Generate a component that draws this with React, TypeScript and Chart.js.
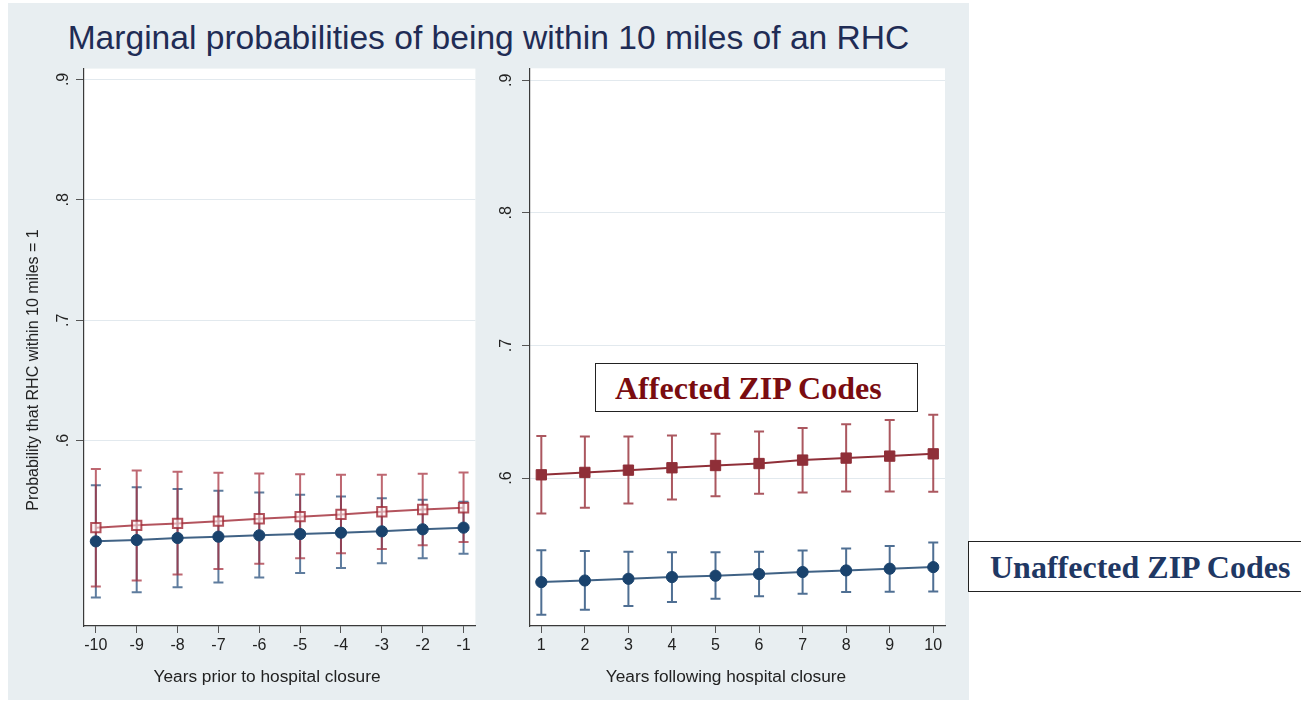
import React, { useEffect, useRef } from 'react';
import { Chart, registerables } from 'chart.js';

Chart.register(...registerables);

// ---------- data ----------
const priorYears = [-10, -9, -8, -7, -6, -5, -4, -3, -2, -1];
const followYears = [1, 2, 3, 4, 5, 6, 7, 8, 9, 10];

const priorAffected = [0.5277, 0.5296, 0.5312, 0.5331, 0.5351, 0.5368, 0.5387, 0.5409, 0.5428, 0.5442];
const priorAffectedHi = [0.5765, 0.5751, 0.5741, 0.5732, 0.5727, 0.5721, 0.5716, 0.5716, 0.5724, 0.5735];
const priorAffectedLo = [0.4788, 0.4838, 0.4887, 0.4934, 0.4978, 0.5022, 0.5064, 0.5099, 0.513, 0.5157];

const priorUnaffected = [0.5163, 0.5174, 0.5191, 0.5202, 0.5213, 0.5224, 0.5235, 0.5246, 0.5263, 0.5277];
const priorUnaffectedHi = [0.563, 0.5613, 0.5597, 0.5583, 0.5569, 0.555, 0.5536, 0.5522, 0.5509, 0.5492];
const priorUnaffectedLo = [0.4697, 0.4741, 0.4782, 0.4821, 0.4863, 0.4901, 0.4942, 0.4981, 0.5022, 0.5061];

const followAffected = [0.6025, 0.6043, 0.606, 0.6078, 0.6095, 0.611, 0.6136, 0.6151, 0.6166, 0.6183];
const followAffectedHi = [0.6317, 0.6313, 0.6313, 0.6321, 0.6334, 0.6351, 0.6377, 0.6407, 0.6439, 0.6477];
const followAffectedLo = [0.5733, 0.5776, 0.5809, 0.5839, 0.5864, 0.5882, 0.5891, 0.5899, 0.5899, 0.5897];

const followUnaffected = [0.5216, 0.5228, 0.5241, 0.5254, 0.5264, 0.5277, 0.5292, 0.5304, 0.5317, 0.5329];
const followUnaffectedHi = [0.5457, 0.545, 0.5445, 0.5442, 0.5442, 0.5445, 0.5454, 0.5469, 0.5488, 0.5515];
const followUnaffectedLo = [0.497, 0.5008, 0.5035, 0.5066, 0.509, 0.511, 0.5128, 0.5141, 0.5143, 0.5145];

const yTickValues = [0.6, 0.7, 0.8, 0.9];
const yTickLabels = ['.6', '.7', '.8', '.9'];

const titleText = 'Marginal probabilities of being within 10 miles of an RHC';
const yTitle = 'Probability that RHC within 10 miles = 1';
const xTitleLeft = 'Years prior to hospital closure';
const xTitleRight = 'Years following hospital closure';
const affectedLabel = 'Affected ZIP Codes';
const unaffectedLabel = 'Unaffected ZIP Codes';

const FONT = '"Liberation Sans", Arial, Helvetica, sans-serif';
const SERIF = '"Liberation Serif", "Times New Roman", serif';

// ---------- plugin: white plot area, error bars, rotated y labels ----------
const panelPlugin = {
  id: 'panel',
  beforeDraw(chart: any) {
    const { ctx, chartArea: a } = chart;
    ctx.save();
    ctx.fillStyle = '#ffffff';
    ctx.fillRect(a.left, a.top, a.right - a.left, a.bottom - a.top);
    ctx.restore();
  },
  beforeDatasetsDraw(chart: any, _args: any, opts: any) {
    const { ctx } = chart;
    const xs = chart.scales.x;
    const ys = chart.scales.y;
    (opts.bars || []).forEach((b: any) => {
      ctx.save();
      ctx.strokeStyle = b.color;
      ctx.lineWidth = 2;
      b.x.forEach((xv: number, i: number) => {
        const x = xs.getPixelForValue(xv);
        const y1 = ys.getPixelForValue(b.lo[i]);
        const y2 = ys.getPixelForValue(b.hi[i]);
        ctx.beginPath();
        ctx.moveTo(x, y1);
        ctx.lineTo(x, y2);
        ctx.moveTo(x - 5, y1);
        ctx.lineTo(x + 5, y1);
        ctx.moveTo(x - 5, y2);
        ctx.lineTo(x + 5, y2);
        ctx.stroke();
      });
      ctx.restore();
    });
  },
  afterDraw(chart: any, _args: any, opts: any) {
    const { ctx } = chart;
    const ys = chart.scales.y;
    ctx.save();
    ctx.fillStyle = '#222';
    ctx.font = `16px ${FONT}`;
    ctx.textAlign = 'center';
    ctx.textBaseline = 'middle';
    ys.ticks.forEach((t: any) => {
      const idx = yTickValues.findIndex((v) => Math.abs(v - t.value) < 1e-6);
      if (idx < 0) return;
      const y = ys.getPixelForValue(t.value);
      ctx.save();
      ctx.translate(opts.labelX, y);
      ctx.rotate(-Math.PI / 2);
      ctx.fillText(yTickLabels[idx], 0, 0);
      ctx.restore();
    });
    ctx.restore();
  },
};

function makeConfig(opts: {
  xs: number[];
  xTicks: number[];
  xMin: number;
  xMax: number;
  yMin: number;
  yMax: number;
  yWidth: number;
  padRight: number;
  labelX: number;
  aff: number[];
  affLo: number[];
  affHi: number[];
  unaff: number[];
  unaffLo: number[];
  unaffHi: number[];
  hollow: boolean;
}) {
  const red = opts.hollow ? 'rgba(160,40,52,0.8)' : '#8f2f38';
  const redBar = opts.hollow ? 'rgba(165,45,58,0.72)' : 'rgba(150,45,55,0.8)';
  const blue = '#1a436d';
  const blueBar = opts.hollow ? 'rgba(40,80,125,0.75)' : 'rgba(35,75,120,0.8)';
  return {
    type: 'line',
    data: {
      datasets: [
        {
          label: affectedLabel,
          data: opts.xs.map((x, i) => ({ x, y: opts.aff[i] })),
          borderColor: red,
          borderWidth: 2,
          pointStyle: 'rect',
          pointRadius: opts.hollow ? 6.6 : 7.3,
          pointBackgroundColor: opts.hollow ? 'rgba(255,240,240,0.55)' : '#8f2f38',
          pointBorderColor: red,
          pointBorderWidth: opts.hollow ? 2 : 1,
          tension: 0,
        },
        {
          label: unaffectedLabel,
          data: opts.xs.map((x, i) => ({ x, y: opts.unaff[i] })),
          borderColor: 'rgba(30,70,112,0.85)',
          borderWidth: 2,
          pointStyle: 'circle',
          pointRadius: 5.6,
          pointBackgroundColor: blue,
          pointBorderColor: blue,
          pointBorderWidth: 1,
          tension: 0,
        },
      ],
    },
    plugins: [panelPlugin],
    options: {
      responsive: false,
      animation: false,
      events: [],
      layout: { padding: { left: 0, top: 8, right: opts.padRight, bottom: 0 } },
      plugins: {
        legend: { display: false },
        tooltip: { enabled: false },
        panel: {
          labelX: opts.labelX,
          bars: [
            { x: opts.xs, lo: opts.unaffLo, hi: opts.unaffHi, color: blueBar },
            { x: opts.xs, lo: opts.affLo, hi: opts.affHi, color: redBar },
          ],
        },
      },
      scales: {
        x: {
          type: 'linear',
          min: opts.xMin,
          max: opts.xMax,
          afterBuildTicks: (s: any) => {
            s.ticks = opts.xTicks.map((v) => ({ value: v }));
          },
          afterFit: (s: any) => {
            s.height = 74;
          },
          ticks: {
            color: '#222',
            font: { family: FONT, size: 16 },
            padding: 3,
            maxRotation: 0,
            autoSkip: false,
            callback: (v: any) => String(v),
          },
          grid: {
            drawOnChartArea: false,
            drawTicks: true,
            tickLength: 7,
            tickColor: '#555',
            tickWidth: 1,
          },
          border: { display: true, color: '#3a3a3a', width: 1.2 },
        },
        y: {
          type: 'linear',
          min: opts.yMin,
          max: opts.yMax,
          afterBuildTicks: (s: any) => {
            s.ticks = yTickValues.map((v) => ({ value: v }));
          },
          afterFit: (s: any) => {
            s.width = opts.yWidth;
          },
          ticks: { display: false },
          grid: {
            color: '#e2e9ee',
            lineWidth: 1,
            drawTicks: true,
            tickLength: 8,
            tickColor: '#555',
            tickWidth: 1,
          },
          border: { display: true, color: '#3a3a3a', width: 1.2 },
        },
      },
    },
  };
}

function Panel(props: { cfg: any; left: number; top: number; width: number; height: number }) {
  const ref = useRef<HTMLCanvasElement | null>(null);
  useEffect(() => {
    if (!ref.current) return;
    const chart = new Chart(ref.current, props.cfg);
    return () => chart.destroy();
  }, []);
  return (
    <canvas
      ref={ref}
      width={props.width}
      height={props.height}
      style={{
        position: 'absolute',
        left: props.left,
        top: props.top,
        width: props.width,
        height: props.height,
      }}
    />
  );
}

export default function App() {
  const leftCfg = makeConfig({
    xs: priorYears,
    xTicks: priorYears,
    xMin: -10.29,
    xMax: -0.71,
    yMin: 0.446,
    yMax: 0.909,
    yWidth: 76,
    padRight: 3,
    labelX: 56,
    aff: priorAffected,
    affLo: priorAffectedLo,
    affHi: priorAffectedHi,
    unaff: priorUnaffected,
    unaffLo: priorUnaffectedLo,
    unaffHi: priorUnaffectedHi,
    hollow: true,
  });
  const rightCfg = makeConfig({
    xs: followYears,
    xTicks: followYears,
    xMin: 0.74,
    xMax: 10.27,
    yMin: 0.4885,
    yMax: 0.909,
    yWidth: 46,
    padRight: 24,
    labelX: 23,
    aff: followAffected,
    affLo: followAffectedLo,
    affHi: followAffectedHi,
    unaff: followUnaffected,
    unaffLo: followUnaffectedLo,
    unaffHi: followUnaffectedHi,
    hollow: false,
  });

  return (
    <div style={{ position: 'absolute', left: 0, top: 0, width: 1301, height: 702, background: '#fff', overflow: 'hidden' }}>
      <div style={{ position: 'absolute', left: 8, top: 3, width: 961, height: 697, background: '#e8eef1' }} />
      <div
        style={{
          position: 'absolute',
          left: 8,
          top: 18,
          width: 961,
          textAlign: 'center',
          fontFamily: FONT,
          fontSize: 33.6,
          lineHeight: '40px',
          color: '#1f2c55',
          whiteSpace: 'nowrap',
        }}
      >
        {titleText}
      </div>
      <Panel cfg={leftCfg} left={8} top={60} width={476} height={640} />
      <Panel cfg={rightCfg} left={484} top={60} width={485} height={640} />
      <div
        style={{
          position: 'absolute',
          left: 33 - 200,
          top: 370 - 10,
          width: 400,
          height: 20,
          lineHeight: '20px',
          textAlign: 'center',
          transform: 'rotate(-90deg)',
          fontFamily: FONT,
          fontSize: 16,
          color: '#222',
          whiteSpace: 'nowrap',
        }}
      >
        {yTitle}
      </div>
      <div
        style={{
          position: 'absolute',
          left: 267 - 200,
          top: 666,
          width: 400,
          lineHeight: '20px',
          textAlign: 'center',
          fontFamily: FONT,
          fontSize: 17.3,
          color: '#222',
          whiteSpace: 'nowrap',
        }}
      >
        {xTitleLeft}
      </div>
      <div
        style={{
          position: 'absolute',
          left: 726 - 200,
          top: 666,
          width: 400,
          lineHeight: '20px',
          textAlign: 'center',
          fontFamily: FONT,
          fontSize: 17.3,
          color: '#222',
          whiteSpace: 'nowrap',
        }}
      >
        {xTitleRight}
      </div>
      <div
        style={{
          position: 'absolute',
          left: 595,
          top: 363,
          width: 323,
          height: 49,
          boxSizing: 'border-box',
          border: '1px solid #222',
          background: '#fff',
          fontFamily: SERIF,
          fontWeight: 'bold',
          fontSize: 32,
          lineHeight: '48px',
          color: '#7a0c10',
          paddingLeft: 19,
          whiteSpace: 'nowrap',
        }}
      >
        {affectedLabel}
      </div>
      <div
        style={{
          position: 'absolute',
          left: 968,
          top: 541,
          width: 340,
          height: 51,
          boxSizing: 'border-box',
          border: '1px solid #222',
          background: '#fff',
          fontFamily: SERIF,
          fontWeight: 'bold',
          fontSize: 32,
          lineHeight: '50px',
          color: '#1f3864',
          paddingLeft: 21,
          whiteSpace: 'nowrap',
        }}
      >
        {unaffectedLabel}
      </div>
    </div>
  );
}
